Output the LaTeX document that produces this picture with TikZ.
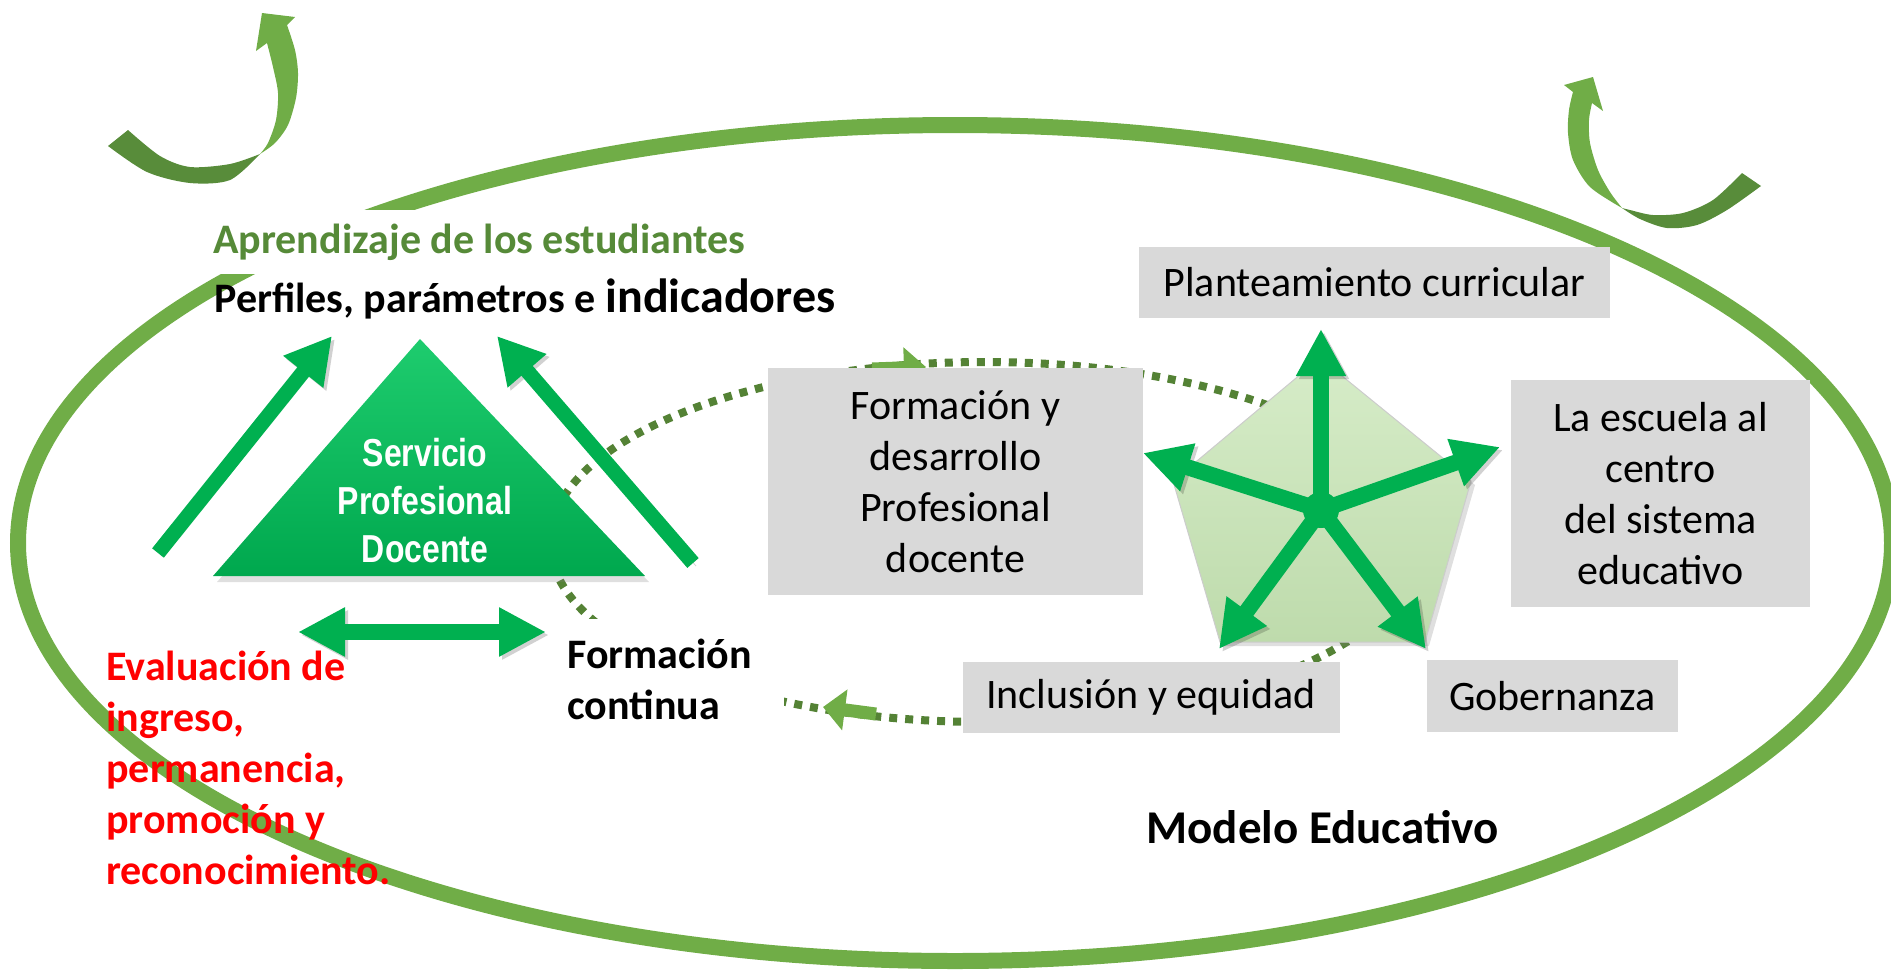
\documentclass[tikz,border=0pt]{standalone}
\usepackage{fontspec}
\setmainfont{Carlito}
\newfontfamily\narrowfont[FakeStretch=0.82]{Liberation Sans}
\usetikzlibrary{arrows.meta,shadows}
\definecolor{ringgreen}{RGB}{112,173,71}
\definecolor{darkgreen}{RGB}{88,140,58}
\definecolor{dotgreen}{RGB}{84,130,53}
\definecolor{titlegreen}{RGB}{86,138,56}
\definecolor{arrowgreen}{RGB}{0,176,80}
\definecolor{boxgray}{RGB}{217,217,217}
\newcommand{\boxfont}{\fontsize{21pt}{25.5pt}\selectfont}
\newcommand{\boldfont}{\fontsize{21pt}{25.5pt}\selectfont\bfseries}
\newcommand{\spdfont}{\narrowfont\bfseries\fontsize{19.5pt}{24pt}\selectfont}
\tikzset{
  ring/.style={draw=ringgreen, line width=8pt},
  dotring/.style={draw=dotgreen, line width=4pt, dash pattern=on 4pt off 4pt},
  smallarrow/.style={draw=ringgreen, line width=6.5pt, -{Triangle[length=11pt,width=20pt]}},
  shadowed/.style={preaction={draw=black, opacity=0.18, transform canvas={xshift=1.5pt, yshift=-1.5pt}}},
  greenarrow/.style={draw=arrowgreen, line width=8pt, -{Triangle[length=23.5pt,width=23.5pt]}, shadowed},
  graybox/.style={fill=boxgray, inner sep=0pt, align=center, font=\boxfont},
  boldtext/.style={inner sep=0pt, font=\boldfont, align=left}
}
\begin{document}
\begin{tikzpicture}[x=0.5pt, y=-0.5pt]
\useasboundingbox (0,0) rectangle (1891,970);
% big ring of the model
\draw[ring] (955,543) ellipse [x radius=937, y radius=418];
% curved arrow, top left
\fill[darkgreen] plot[smooth] coordinates {(108,146) (147,172) (190,183) (230,180) (260,154)}
    -- plot[smooth] coordinates {(260,154) (230,164) (190,167) (160,156) (128,130)} -- cycle;
\fill[ringgreen] plot[smooth] coordinates {(260,154) (275,143) (288,125) (296,98) (298,73) (295,50) (287,25)}
    -- (295,17) -- (262,13) -- (256,51) -- (267,43)
    -- plot[smooth] coordinates {(267,43) (273,67) (278,93) (276,120) (268,143) (260,154)} -- cycle;
% curved arrow, top right
\fill[darkgreen] plot[smooth] coordinates {(1622,208) (1640,219) (1667,228) (1697,225) (1727,210) (1761,186)}
    -- plot[smooth] coordinates {(1742,173) (1713,200) (1683,213) (1653,215) (1630,210) (1622,208)} -- cycle;
\fill[ringgreen] plot[smooth] coordinates {(1573,92) (1569,110) (1568,133) (1573,160) (1590,187) (1622,208)}
    -- plot[smooth] coordinates {(1622,208) (1610,192) (1598,170) (1590,143) (1589,120) (1592,103)}
    -- (1603,111) -- (1593,77) -- (1564,85) -- cycle;
% dotted cycle
\draw[dotring] (985,542) ellipse [x radius=435, y radius=180];
\coordinate (topA) at (872,369);
\coordinate (topB) at (926,367);
\coordinate (botA) at (876,714);
\coordinate (botB) at (823,707);
\draw[smallarrow] (topA) -- (topB);
\draw[smallarrow] (botA) -- (botB);
% the five boxes
\node[graybox, minimum width=235.5pt, minimum height=35.5pt] (curricular) at (1374.5,282.5) {Planteamiento curricular};
\node[graybox, minimum width=187.5pt, minimum height=113.5pt] (formacion) at (955.5,481.5) {Formación y\\desarrollo\\Profesional\\docente};
\node[graybox, minimum width=149.5pt, minimum height=113.5pt] (escuela) at (1660.5,493.5) {La escuela al\\centro\\del sistema\\educativo};
\node[graybox, minimum width=188.5pt, minimum height=35.5pt] (inclusion) at (1151,697.5) {Inclusión y equidad};
\node[graybox, minimum width=125.5pt, minimum height=36pt] (gobernanza) at (1552.5,696) {Gobernanza};
% pentagon with the five arrows
\coordinate (pTop) at (1320,358);
\coordinate (pRight) at (1471,481);
\coordinate (pBR) at (1425,642);
\coordinate (pBL) at (1220,642);
\coordinate (pLeft) at (1173,481);
\shade[top color={rgb,255:red,214;green,236;blue,200}, bottom color={rgb,255:red,190;green,219;blue,172},
    drop shadow={opacity=0.25, shadow xshift=2pt, shadow yshift=-2pt}]
    (pTop) -- (pRight) -- (pBR) -- (pBL) -- (pLeft) -- cycle;
\draw[black!20, line width=0.5pt] (pTop) -- (pRight) -- (pBR) -- (pBL) -- (pLeft) -- cycle;
\coordinate (hub) at (1321,510);
\coordinate (tipUp) at (1321,329);
\coordinate (tipRight) at (1500,447);
\coordinate (tipLeft) at (1143,453);
\coordinate (tipBL) at (1219,649);
\coordinate (tipBR) at (1426,649);
\foreach \t in {tipUp,tipRight,tipLeft,tipBL,tipBR}
  \draw[greenarrow] (hub) -- (\t);
\fill[arrowgreen] (hub) circle [radius=18];
% triangle and its arrows
\coordinate (lTail) at (158,553);
\coordinate (lTip) at (332,336);
\coordinate (rTail) at (693,563);
\coordinate (rTip) at (497,336);
\draw[greenarrow, line width=7.5pt, -{Triangle[length=23pt,width=24pt]}] (lTail) -- (lTip);
\draw[greenarrow, line width=7.5pt, -{Triangle[length=23pt,width=24pt]}] (rTail) -- (rTip);
\coordinate (apex) at (420,339);
\coordinate (baseL) at (213,576);
\coordinate (baseR) at (645,576);
\shade[top color={rgb,255:red,30;green,204;blue,110}, bottom color={rgb,255:red,0;green,168;blue,78},
    drop shadow={opacity=0.25, shadow xshift=2pt, shadow yshift=-3pt}]
    (apex) -- (baseL) -- (baseR) -- cycle;
\node[text=white, font=\spdfont, align=center, inner sep=0pt] (spd) at (425,501) {Servicio\\Profesional\\Docente};
% texts
\node[boldtext, anchor=west, fill=white, inner xsep=16pt, inner ysep=10pt] (fcontinua) at (535,679) {Formación\\continua};
\coordinate (dL) at (298,632);
\coordinate (dR) at (546,632);
\draw[greenarrow, {Triangle[length=23.5pt,width=23pt]}-{Triangle[length=23.5pt,width=23pt]}] (dL) -- (dR);
\node[boldtext, text=titlegreen, anchor=base west, fill=white, inner xsep=8pt, inner ysep=7pt] (aprendizaje) at (197,253) {Aprendizaje de los estudiantes};
\node[boldtext, anchor=base west] (perfiles) at (214,312) {Perfiles, parámetros e {\fontsize{24pt}{24pt}\selectfont indicadores}};
\node[boldtext, text=red, anchor=west] (evaluacion) at (106,768) {Evaluación de\\ingreso,\\permanencia,\\promoción y\\reconocimiento.};
\node[boldtext, anchor=base west] (modelo) at (1146,843) {\fontsize{23.5pt}{28pt}\selectfont Modelo Educativo};
\end{tikzpicture}
\end{document}
